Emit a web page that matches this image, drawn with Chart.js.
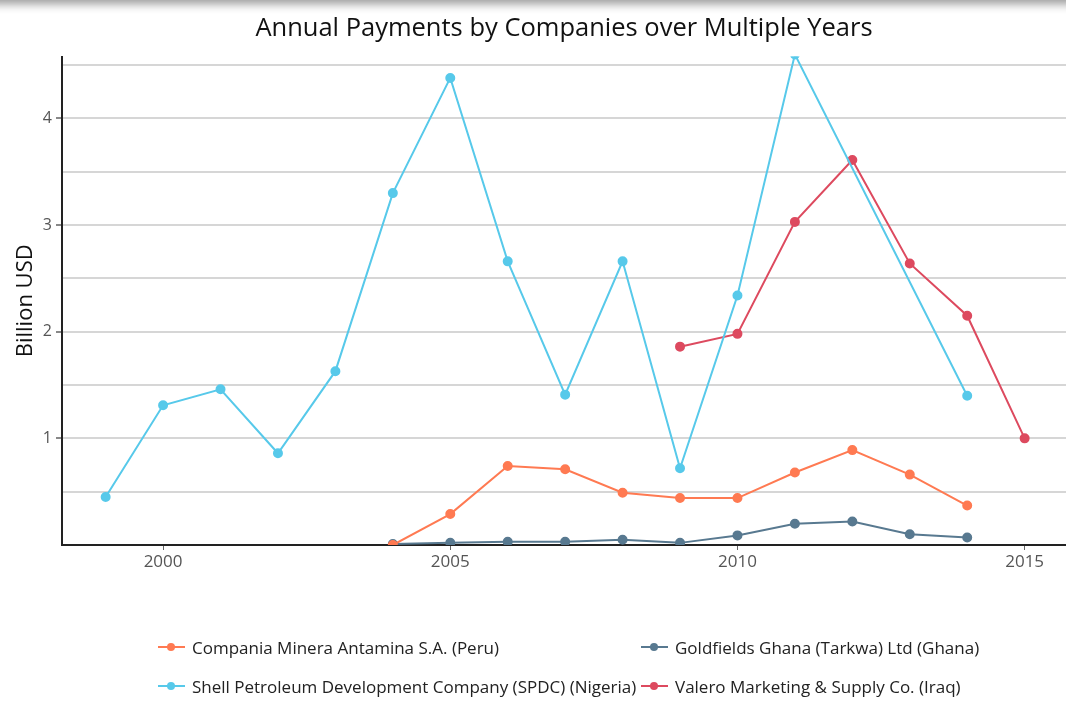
<!DOCTYPE html>
<html>
<head>
<meta charset="utf-8">
<title>Annual Payments by Companies over Multiple Years</title>
<script src="https://cdn.jsdelivr.net/npm/chart.js@4.4.0/dist/chart.umd.min.js"></script>
<style>
  body { margin: 0; background: #fff; font-family: "Open Sans", sans-serif; }
  #wrap { position: relative; width: 1066px; height: 719px; overflow: hidden; background: #fff; }
  #shade { position: absolute; left: -20px; top: -20px; width: 1106px; height: 20px; box-shadow: 0 4px 10px rgba(0,0,0,0.4); }
  #box { position: absolute; left: 0; top: 0; width: 1066px; height: 580px; }
  #legend { position: absolute; left: 0; top: 0; width: 1066px; height: 719px; pointer-events: none; }
  .item { position: absolute; display: flex; align-items: center; font-size: 17px; color: #222; white-space: nowrap; height: 22px; }
  .mark { position: relative; width: 27px; height: 2px; margin-right: 7px; }
  .mark span { position: absolute; left: 9px; top: -3px; width: 8px; height: 8px; border-radius: 50%; }
</style>
</head>
<body>
<div id="wrap">
  <div id="box"><canvas id="chart"></canvas></div>
  <div id="legend"></div>
  <div id="shade"></div>
</div>
<script>
// years on the x axis
var years = [1999, 2000, 2001, 2002, 2003, 2004, 2005, 2006, 2007, 2008, 2009, 2010, 2011, 2012, 2013, 2014, 2015];

// payments, billion USD (null = no data)
var antamina   = [null, null, null, null, null, 0.00, 0.29, 0.74, 0.71, 0.49, 0.44, 0.44, 0.68, 0.89, 0.66, 0.37, null];
var goldfields = [null, null, null, null, null, 0.01, 0.02, 0.03, 0.03, 0.05, 0.02, 0.09, 0.20, 0.22, 0.10, 0.07, null];
var shell      = [0.45, 1.31, 1.46, 0.86, 1.63, 3.30, 4.38, 2.66, 1.41, 2.66, 0.72, 2.34, 4.60, null, null, 1.40, null];
var valero     = [null, null, null, null, null, null, null, null, null, null, 1.86, 1.98, 3.03, 3.61, 2.64, 2.15, 1.00];

var names = [
    'Compania Minera Antamina S.A. (Peru)',
    'Goldfields Ghana (Tarkwa) Ltd (Ghana)',
    'Shell Petroleum Development Company (SPDC) (Nigeria)',
    'Valero Marketing & Supply Co. (Iraq)'
];
var colors = ['#ff7a52', '#587990', '#57c9ea', '#dd4a5f'];
var series = [antamina, goldfields, shell, valero];

function points(values) {
    var out = [];
    for (var i = 0; i < years.length; i++) {
        if (values[i] !== null) out.push({ x: years[i], y: values[i] });
    }
    return out;
}

var datasets = series.map(function (values, i) {
    return {
        label: names[i],
        data: points(values),
        borderColor: colors[i],
        backgroundColor: colors[i],
        borderWidth: 2,
        pointRadius: 4,
        pointHoverRadius: 5,
        tension: 0
    };
});

var ctx = document.getElementById('chart').getContext('2d');
var chart = new Chart(ctx, {
    type: 'line',
    data: { datasets: datasets },
    options: {
        responsive: true,
        maintainAspectRatio: false,
        animation: false,
        layout: { padding: 0, autoPadding: false },
        plugins: {
            legend: { display: false },
            tooltip: { enabled: false },
            title: {
                display: true,
                fullSize: false,
                text: 'Annual Payments by Companies over Multiple Years',
                color: '#111',
                font: { family: 'Open Sans', size: 25.5, weight: 'normal' },
                padding: { top: 13, bottom: 13 }
            }
        },
        scales: {
            x: {
                type: 'linear',
                min: 1998.24,
                max: 2015.72,
                afterFit: function (scale) {
                    scale.height = 35;
                    scale.paddingLeft = 0;
                    scale.paddingRight = 0;
                },
                border: { display: true, color: '#222', width: 2 },
                grid: { drawOnChartArea: false, drawTicks: true, tickLength: 5, tickColor: '#666' },
                ticks: {
                    stepSize: 5,
                    includeBounds: false,
                    padding: 2,
                    color: '#555',
                    font: { family: 'Open Sans', size: 17 },
                    callback: function (v) { return String(v); }
                }
            },
            y: {
                min: 0,
                max: 4.58,
                afterFit: function (scale) {
                    scale.width = 62;
                    scale.paddingTop = 0;
                    scale.paddingBottom = 0;
                },
                border: { display: true, color: '#222', width: 2 },
                grid: {
                    color: '#d6d6d6',
                    lineWidth: 2,
                    tickLength: 6,
                    tickColor: function (c) {
                        return (c.tick && Number.isInteger(c.tick.value) && c.tick.value !== 0) ? '#888' : 'rgba(0,0,0,0)';
                    }
                },
                title: {
                    display: true,
                    text: 'Billion USD',
                    color: '#111',
                    font: { family: 'Open Sans', size: 22 },
                    padding: { top: 13, bottom: 0 }
                },
                ticks: {
                    stepSize: 0.5,
                    includeBounds: false,
                    padding: 4,
                    color: '#555',
                    font: { family: 'Open Sans', size: 16 },
                    callback: function (v) {
                        return (Number.isInteger(v) && v !== 0) ? String(v) : '';
                    }
                }
            }
        }
    }
});

// legend laid out as a 2 x 2 table under the chart
var legendPos = [[158, 636], [641, 636], [158, 675], [641, 675]];
var legend = document.getElementById('legend');
names.forEach(function (name, i) {
    var item = document.createElement('div');
    item.className = 'item';
    item.style.left = legendPos[i][0] + 'px';
    item.style.top = legendPos[i][1] + 'px';
    var mark = document.createElement('div');
    mark.className = 'mark';
    mark.style.background = colors[i];
    var dot = document.createElement('span');
    dot.style.background = colors[i];
    mark.appendChild(dot);
    item.appendChild(mark);
    item.appendChild(document.createTextNode(name));
    legend.appendChild(item);
});
</script>
</body>
</html>
